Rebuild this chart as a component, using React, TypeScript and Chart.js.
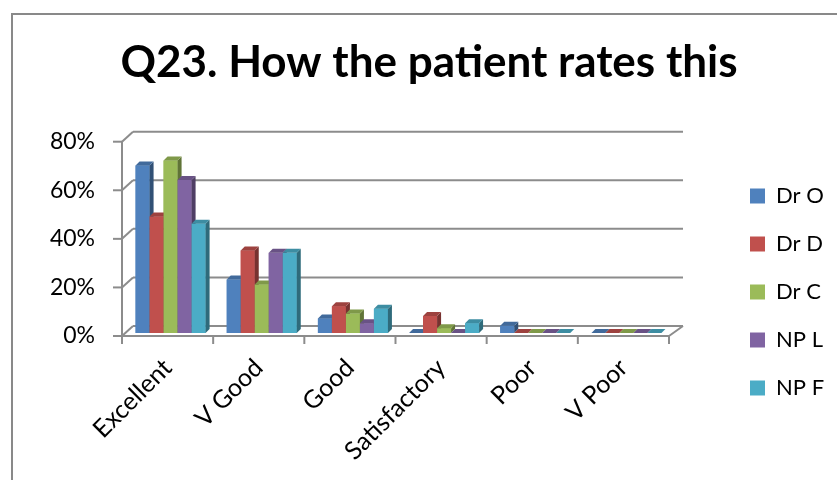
import React, { useEffect, useRef } from 'react';
import { Chart, registerables } from 'chart.js';

Chart.register(...registerables);

// ---- data ----
const categories = ['Excellent', 'V Good', 'Good', 'Satisfactory', 'Poor', 'V Poor'];
const drO = [69, 22, 6, 0, 3, 0];
const drD = [48, 34, 11, 7, 0, 0];
const drC = [71, 20, 8, 2, 0, 0];
const npL = [63, 33, 4, 0, 0, 0];
const npF = [45, 33, 10, 4, 0, 0];
const seriesNames = ['Dr O', 'Dr D', 'Dr C', 'NP L', 'NP F'];
const seriesValues = [drO, drD, drC, npL, npF];
const seriesColors = ['#4F81BD', '#C0504D', '#9BBB59', '#8064A2', '#4BACC6'];
const yTicks = [0, 20, 40, 60, 80];
const chartTitle = 'Q23. How the patient rates this';

// ---- 3D look ----
const WALL_COLOR = '#8c8c8c';
const BACK_DX_LEFT = 11;
const BACK_DX_RIGHT = 14;
const BACK_DY = 10;
const BAR_SHIFT = 3;
const BAR_DEPTH = 4;

function shade(hex: string, f: number): string {
  const n = parseInt(hex.slice(1), 16);
  const r = Math.round(((n >> 16) & 255) * f);
  const g = Math.round(((n >> 8) & 255) * f);
  const b = Math.round((n & 255) * f);
  return `rgb(${r},${g},${b})`;
}

function seg(ctx: CanvasRenderingContext2D, x1: number, y1: number, x2: number, y2: number) {
  ctx.beginPath();
  ctx.moveTo(x1, y1);
  ctx.lineTo(x2, y2);
  ctx.stroke();
}

function poly(ctx: CanvasRenderingContext2D, pts: number[][], color: string) {
  ctx.beginPath();
  ctx.moveTo(pts[0][0], pts[0][1]);
  for (let i = 1; i < pts.length; i++) ctx.lineTo(pts[i][0], pts[i][1]);
  ctx.closePath();
  ctx.fillStyle = color;
  ctx.fill();
}

const box3d = {
  id: 'box3d',
  afterLayout(chart: any) {
    // let the slanted category labels run down to the bottom of the canvas
    chart.scales.x.bottom = chart.height;
  },
  beforeDatasetsDraw(chart: any) {
    const { ctx, chartArea: a, scales } = chart;
    const y = scales.y;
    const backL = a.left + BACK_DX_LEFT;
    const backR = a.right + BACK_DX_RIGHT;
    ctx.save();
    ctx.strokeStyle = WALL_COLOR;
    ctx.lineWidth = 2;
    // value gridlines: tick, left wall diagonal, back wall line
    yTicks.forEach((v) => {
      const py = y.getPixelForValue(v);
      seg(ctx, a.left - 9, py, a.left, py);
      seg(ctx, a.left, py, backL, py - BACK_DY);
      seg(ctx, backL, py - BACK_DY, backR, py - BACK_DY);
    });
    // front value axis and floor outline
    seg(ctx, a.left, y.getPixelForValue(yTicks[yTicks.length - 1]), a.left, a.bottom);
    seg(ctx, a.left, a.bottom, a.right, a.bottom);
    seg(ctx, a.right, a.bottom, backR, a.bottom - BACK_DY);
    // category boundary ticks
    const n = categories.length;
    for (let i = 0; i <= n; i++) {
      const px = a.left + ((a.right - a.left) * i) / n;
      seg(ctx, px, a.bottom, px, a.bottom + 8);
    }
    ctx.restore();
    // bars stand a little behind the front edge of the floor
    ctx.save();
    ctx.translate(BAR_SHIFT, -BAR_SHIFT);
  },
  afterDatasetsDraw(chart: any) {
    const ctx = chart.ctx;
    // paint bars left to right so each bar hides the side of its left neighbour
    for (let c = 0; c < categories.length; c++) {
      for (let d = 0; d < seriesValues.length; d++) {
        const el = chart.getDatasetMeta(d).data[c];
        if (!el) continue;
        const { x, y, base, width } = el.getProps(['x', 'y', 'base', 'width'], true);
        const l = x - width / 2;
        const r = x + width / 2;
        const col = seriesColors[d];
        if (base - y > 0) {
          ctx.fillStyle = col;
          ctx.fillRect(l, y, width, base - y);
          poly(ctx, [[r, y], [r + BAR_DEPTH, y - BAR_DEPTH], [r + BAR_DEPTH, base - BAR_DEPTH], [r, base]], shade(col, 0.62));
        }
        poly(ctx, [[l, y], [r, y], [r + BAR_DEPTH, y - BAR_DEPTH], [l + BAR_DEPTH, y - BAR_DEPTH]], shade(col, 0.82));
      }
    }
    ctx.restore();
  },
};

export default function App() {
  const ref = useRef<HTMLCanvasElement>(null);

  useEffect(() => {
    if (!ref.current) return;
    Chart.defaults.font.family = 'Lato, "Open Sans", sans-serif';
    Chart.defaults.color = '#000';
    const chart = new Chart(ref.current, {
      type: 'bar',
      data: {
        labels: categories,
        datasets: seriesNames.map((name, i) => ({
          label: name,
          data: seriesValues[i],
          backgroundColor: seriesColors[i],
          borderWidth: 0,
          categoryPercentage: 0.768,
          barPercentage: 1,
        })),
      },
      options: {
        animation: false,
        responsive: true,
        maintainAspectRatio: false,
        devicePixelRatio: 1,
        events: [],
        layout: { padding: { left: 21, right: 13, top: 0, bottom: 55 } },
        plugins: {
          title: {
            display: true,
            text: chartTitle,
            color: '#000',
            font: { size: 44, weight: 'bold', lineHeight: 1.2 },
            padding: { top: 21, bottom: 52.9 },
          },
          legend: {
            position: 'right',
            align: 'end',
            maxWidth: 100,
            labels: {
              boxWidth: 15,
              boxHeight: 15,
              padding: 26,
              color: '#000',
              font: { size: 22 },
              sort: (a: any, b: any) => a.datasetIndex - b.datasetIndex,
            },
          },
          tooltip: { enabled: false },
        },
        scales: {
          x: {
            grid: { display: false, drawTicks: false },
            border: { display: false },
            ticks: {
              autoSkip: false,
              minRotation: 45,
              maxRotation: 45,
              padding: 17,
              labelOffset: 0,
              color: '#000',
              font: { size: 25 },
            },
            afterFit: (s: any) => { s.height = 89; },
          },
          y: {
            min: 0,
            max: 80,
            grid: { display: false, drawTicks: false },
            border: { display: false },
            ticks: {
              stepSize: 20,
              padding: 27,
              color: '#000',
              font: { size: 23 },
              callback: (v: any) => `${v}%`,
            },
            afterFit: (s: any) => { s.width = 88; },
          },
          // empty spacer between the plot and the legend
          y2: {
            position: 'right',
            display: true,
            grid: { display: false, drawTicks: false },
            border: { display: false },
            ticks: { display: false },
            afterFit: (s: any) => { s.width = 55; },
          },
        },
      } as any,
      plugins: [box3d],
    });
    return () => chart.destroy();
  }, []);

  return (
    <div style={{ position: 'fixed', left: 0, top: 0, width: 837, height: 480, overflow: 'hidden', background: '#fff' }}>
      <div
        style={{
          position: 'absolute',
          left: 11,
          top: 13,
          width: 880,
          height: 520,
          borderLeft: '2px solid #898989',
          borderTop: '2px solid #898989',
          boxSizing: 'border-box',
        }}
      >
        <div style={{ position: 'absolute', left: 0, top: 0, width: 824, height: 465 }}>
          <canvas ref={ref} />
        </div>
      </div>
    </div>
  );
}
